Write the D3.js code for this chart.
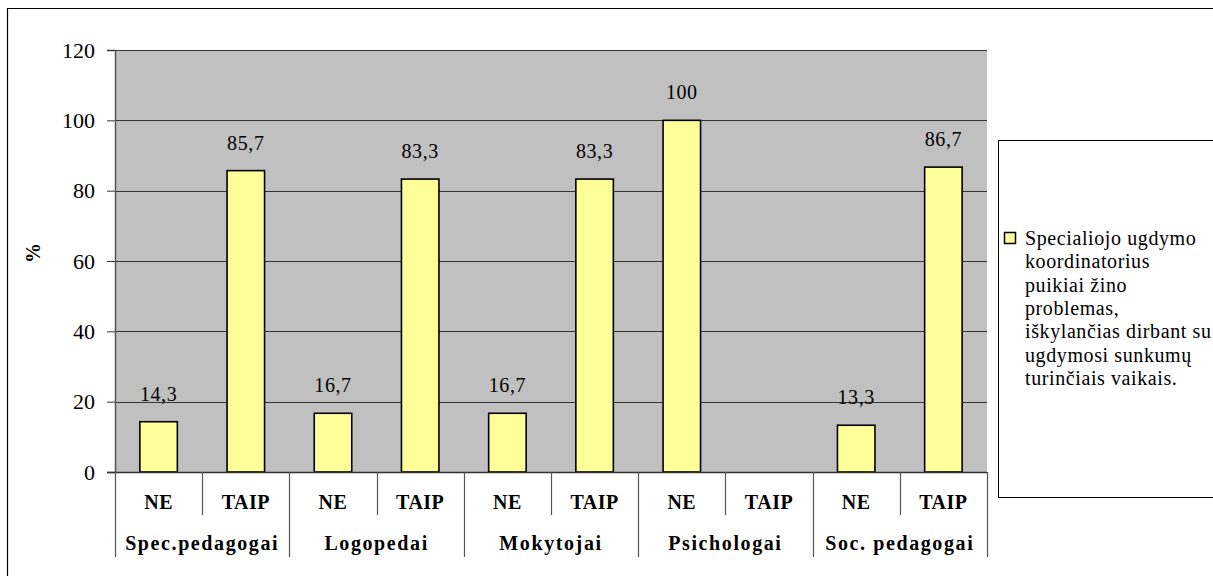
<!DOCTYPE html>
<html>
<head>
<meta charset="utf-8">
<script src="https://cdn.jsdelivr.net/npm/d3@7"></script>
<style>
  html, body { margin: 0; padding: 0; background: #fff; }
  svg { display: block; }
  svg text { font-family: "Liberation Serif", "Times New Roman", Tinos, serif !important; }
</style>
</head>
<body>
<svg id="chart" width="1213" height="576"></svg>
<script>
// Respondent groups and answers
const groups = ["Spec.pedagogai", "Logopedai", "Mokytojai", "Psichologai", "Soc. pedagogai"];
const answers = ["NE", "TAIP"];
// Percentages per group, NE then TAIP (null = no bar)
const valuesNE   = [14.3, 16.7, 16.7, 100, 13.3];
const valuesTAIP = [85.7, 83.3, 83.3, null, 86.7];
const labelsNE   = ["14,3", "16,7", "16,7", "100", "13,3"];
const labelsTAIP = ["85,7", "83,3", "83,3", "", "86,7"];
const yTicks = [0, 20, 40, 60, 80, 100, 120];
const legendLines = [
  "Specialiojo ugdymo",
  "koordinatorius",
  "puikiai žino",
  "problemas,",
  "iškylančias dirbant su",
  "ugdymosi sunkumų",
  "turinčiais vaikais."
];

const rows = [];
groups.forEach((g, i) => {
  rows.push({ group: g, answer: answers[0], value: valuesNE[i], label: labelsNE[i] });
  rows.push({ group: g, answer: answers[1], value: valuesTAIP[i], label: labelsTAIP[i] });
});

const svg = d3.select("#chart");
const plot = { left: 115, right: 987, top: 50, bottom: 472 };

// Outer frame
svg.append("path")
  .attr("d", "M7.5,580 L7.5,8.5 L1220,8.5")
  .attr("fill", "none").attr("stroke", "#000").attr("stroke-width", 1.2);

const x = d3.scaleBand()
  .domain(d3.range(rows.length))
  .range([plot.left, plot.right])
  .paddingInner(0).paddingOuter(0);

const y = d3.scaleLinear().domain([0, 120]).range([plot.bottom, plot.top]);

// Plot background
svg.append("rect")
  .attr("x", plot.left).attr("y", plot.top)
  .attr("width", plot.right - plot.left).attr("height", plot.bottom - plot.top)
  .attr("fill", "#c0c0c0");

// Horizontal grid lines
svg.append("g").selectAll("line")
  .data(yTicks.filter(t => t > 0))
  .join("line")
  .attr("x1", plot.left).attr("x2", plot.right)
  .attr("y1", d => Math.round(y(d)) + 0.5).attr("y2", d => Math.round(y(d)) + 0.5)
  .attr("stroke", "#333").attr("stroke-width", 1);

// Y axis
const yAxis = svg.append("g")
  .attr("transform", `translate(${plot.left},0)`)
  .call(d3.axisLeft(y).tickValues(yTicks).tickSize(8).tickPadding(12));
yAxis.attr("font-family", null).attr("font-size", 22);
yAxis.select(".domain").attr("stroke", "#555").attr("stroke-width", 1.5);
yAxis.selectAll(".tick line").attr("stroke", "#333");
yAxis.selectAll(".tick text").attr("fill", "#000");

// Axis title
svg.append("text")
  .attr("transform", "translate(40,253) rotate(-90)")
  .attr("text-anchor", "middle")
  .attr("font-size", 20).attr("font-weight", "bold")
  .text("%");

// Bars
const bw = x.bandwidth() * 0.43;
const drawn = rows.map((d, i) => ({ ...d, i })).filter(d => d.value != null);
svg.append("g").selectAll("rect")
  .data(drawn)
  .join("rect")
  .attr("x", d => x(d.i) + (x.bandwidth() - bw) / 2)
  .attr("y", d => y(d.value))
  .attr("width", bw)
  .attr("height", d => y(0) - y(d.value))
  .attr("fill", "#ffff99")
  .attr("stroke", "#000").attr("stroke-width", 1.6);

// Value labels
svg.append("g").selectAll("text")
  .data(drawn)
  .join("text")
  .attr("x", d => x(d.i) + x.bandwidth() / 2)
  .attr("y", d => y(d.value) - 21)
  .attr("text-anchor", "middle")
  .attr("font-size", 20)
  .attr("letter-spacing", 0.6)
  .text(d => d.label);

// Category axis baseline
svg.append("line")
  .attr("x1", plot.left - 8).attr("x2", plot.right)
  .attr("y1", plot.bottom + 0.5).attr("y2", plot.bottom + 0.5)
  .attr("stroke", "#333").attr("stroke-width", 1.5);

// Dividers between answers and groups
const cat = svg.append("g");
d3.range(rows.length + 1).forEach(k => {
  const xx = Math.round(plot.left + k * x.step()) + 0.5;
  const isGroup = k % 2 === 0;
  cat.append("line")
    .attr("x1", xx).attr("x2", xx)
    .attr("y1", plot.bottom).attr("y2", isGroup ? 557 : 515)
    .attr("stroke", "#555").attr("stroke-width", 1.2);
});

// Answer labels
cat.selectAll("text.ans")
  .data(rows.map((d, i) => ({ ...d, i })))
  .join("text").attr("class", "ans")
  .attr("x", d => x(d.i) + x.bandwidth() / 2)
  .attr("y", 509)
  .attr("text-anchor", "middle")
  .attr("font-size", 20).attr("font-weight", "bold")
  .attr("letter-spacing", 0.5)
  .text(d => d.answer);

// Group labels
cat.selectAll("text.grp")
  .data(groups)
  .join("text").attr("class", "grp")
  .attr("x", (d, i) => plot.left + (2 * i + 1) * x.step())
  .attr("y", 550)
  .attr("text-anchor", "middle")
  .attr("font-size", 20).attr("font-weight", "bold")
  .attr("letter-spacing", 1.6)
  .text(d => d);

// Legend
const lg = svg.append("g");
lg.append("rect")
  .attr("x", 998.5).attr("y", 140.5)
  .attr("width", 230).attr("height", 357)
  .attr("fill", "#fff").attr("stroke", "#000").attr("stroke-width", 1);
lg.append("rect")
  .attr("x", 1004.5).attr("y", 232.5)
  .attr("width", 11).attr("height", 11)
  .attr("fill", "#ffff99").attr("stroke", "#000").attr("stroke-width", 1.5);
lg.selectAll("text")
  .data(legendLines)
  .join("text")
  .attr("x", 1025)
  .attr("y", (d, i) => 245 + i * 23.3)
  .attr("font-size", 20)
  .attr("letter-spacing", 0.6)
  .text(d => d);
</script>
</body>
</html>
